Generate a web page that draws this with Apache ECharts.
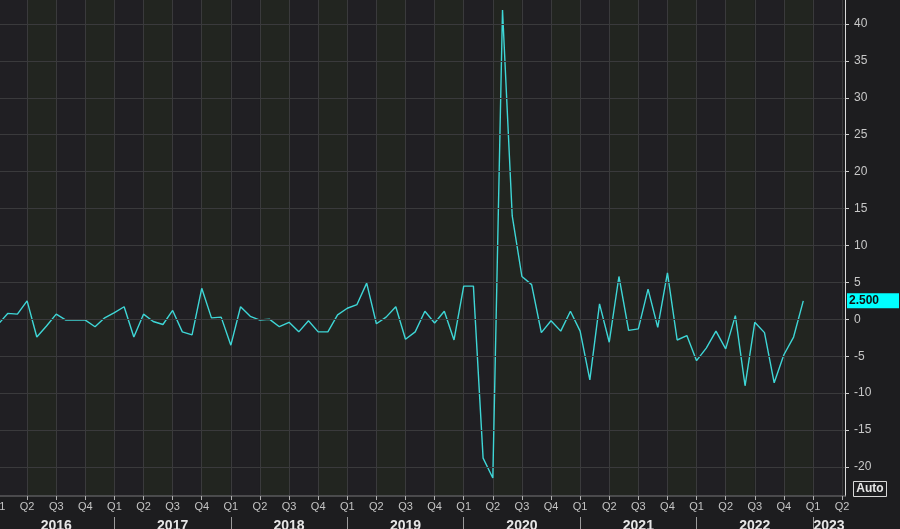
<!DOCTYPE html>
<html>
<head>
<meta charset="utf-8">
<script src="https://cdn.jsdelivr.net/npm/echarts@6/dist/echarts.min.js"></script>
<style>
html,body{margin:0;padding:0;background:#1d1d1f;}
#chart{width:900px;height:529px;}
</style>
</head>
<body>
<div id="chart"></div>
<script>
// ---- data (monthly values) ----
const years = ['2016', '2017', '2018', '2019', '2020', '2021', '2022', '2023'];
const quarterNames = ['Q1', 'Q2', 'Q3', 'Q4'];
const v2016 = [-0.7, 0.8, 0.7, 2.5, -2.4, -0.9, 0.7, -0.1, -0.1, -0.1, -1.0, 0.2];
const v2017 = [0.9, 1.7, -2.4, 0.7, -0.3, -0.7, 1.2, -1.7, -2.1, 4.2, 0.2, 0.3];
const v2018 = [-3.5, 1.7, 0.4, -0.1, 0.0, -1.0, -0.4, -1.7, -0.2, -1.7, -1.7, 0.6];
const v2019 = [1.5, 2.0, 4.9, -0.6, 0.3, 1.7, -2.7, -1.7, 1.1, -0.5, 1.1, -2.8];
const v2020 = [4.5, 4.5, -18.8, -21.5, 41.9, 14.0, 5.8, 4.7, -1.8, -0.2, -1.6, 1.1];
const v2021 = [-1.6, -8.2, 2.1, -3.1, 5.8, -1.5, -1.3, 4.1, -1.1, 6.3, -2.8, -2.2];
const v2022 = [-5.6, -3.9, -1.6, -4.0, 0.5, -9.0, -0.4, -1.8, -8.6, -4.8, -2.4, 2.5];
const yTicks = [-20, -15, -10, -5, 0, 5, 10, 15, 20, 25, 30, 35, 40];

const byYear = [v2016, v2017, v2018, v2019, v2020, v2021, v2022];
const seriesData = [];
byYear.forEach((arr, yi) => arr.forEach((v, m) => seriesData.push([yi * 12 + m, v])));
const lastValue = seriesData[seriesData.length - 1][1];

const X_MIN = 0, X_MAX = 87.3;
const quarterPos = [];
for (let q = 0; q <= 29; q++) quarterPos.push(q * 3);
const yearSep = [12, 24, 36, 48, 60, 72, 84];
const yearCenters = [6, 18, 30, 42, 54, 66, 78, 85.65];

const FONT = 'Liberation Sans';
const chart = echarts.init(document.getElementById('chart'));
chart.setOption({
  backgroundColor: '#1d1d1f',
  animation: false,
  grid: { left: -2, right: 55, top: 0, bottom: 33, show: false, containLabel: false, outerBoundsMode: 'none' },
  xAxis: [
    {
      type: 'value', min: X_MIN, max: X_MAX, interval: 3,
      axisLine: { show: true, onZero: false, lineStyle: { color: '#5a5a5c', width: 1.5 } },
      axisTick: { show: true, customValues: quarterPos, length: 4, lineStyle: { color: '#b0b0b0' } },
      axisLabel: {
        customValues: quarterPos, margin: 5, color: '#c4c4c4', fontSize: 11, fontFamily: FONT,
        formatter: v => quarterNames[Math.round(v / 3) % 4]
      },
      splitLine: { show: true, lineStyle: { color: '#3a3a3c', width: 1 } },
      splitArea: { show: true, areaStyle: { color: ['#201f23', '#222520'] } }
    },
    {
      type: 'value', min: X_MIN, max: X_MAX, position: 'bottom', offset: 21,
      axisLine: { show: false, onZero: false },
      axisTick: { show: true, customValues: yearSep, length: 14, lineStyle: { color: '#9a9a9a' } },
      axisLabel: {
        customValues: yearCenters, margin: 2, color: '#e6e6e6', fontSize: 14, fontWeight: 'bold', fontFamily: FONT,
        formatter: v => years[Math.floor(v / 12)]
      },
      splitLine: { show: false }
    }
  ],
  yAxis: {
    type: 'value', position: 'right', min: -23.93, max: 43.25,
    axisLine: { show: true, onZero: false, lineStyle: { color: '#d8d8d8', width: 1 } },
    axisTick: { show: true, customValues: yTicks, length: 4, lineStyle: { color: '#d0d0d0' } },
    axisLabel: { customValues: yTicks, margin: 9, color: '#c8c8c8', fontSize: 12, fontFamily: FONT },
    splitLine: { show: false }
  },
  series: [
    {
      type: 'line', data: seriesData, symbol: 'none', silent: true, z: 1,
      lineStyle: { opacity: 0 },
      markLine: {
        silent: true, symbol: ['none', 'none'], animation: false,
        label: { show: false },
        lineStyle: { color: '#3a3a3c', width: 1, type: 'solid', opacity: 1 },
        data: yTicks.map(t => ({ yAxis: t }))
      }
    },
    {
      type: 'line', data: seriesData, symbol: 'none', z: 3,
      lineStyle: { color: '#3ed6d6', width: 1.4 },
      markLine: {
        silent: true, symbol: ['none', 'none'], animation: false,
        data: [{
          yAxis: lastValue,
          lineStyle: { color: 'rgba(0,0,0,0)', width: 0 },
          label: {
            show: true, position: 'end', distance: 2,
            formatter: () => lastValue.toFixed(3),
            backgroundColor: '#00ffff', color: '#101010', fontWeight: 'bold',
            fontSize: 12, fontFamily: FONT, padding: [2, 20, 1, 2], opacity: 1
          }
        }]
      }
    }
  ],
  graphic: [
    {
      type: 'group', right: 13, bottom: 32,
      children: [
        { type: 'rect', shape: { x: 0, y: 0, width: 33, height: 15 }, style: { fill: '#1d1d1f', stroke: '#d8d8d8', lineWidth: 1 } },
        { type: 'text', x: 16.5, y: 7.5, style: { text: 'Auto', fill: '#e6e6e6', font: 'bold 12px "Liberation Sans"', align: 'center', verticalAlign: 'middle' } }
      ]
    }
  ]
});
</script>
</body>
</html>
